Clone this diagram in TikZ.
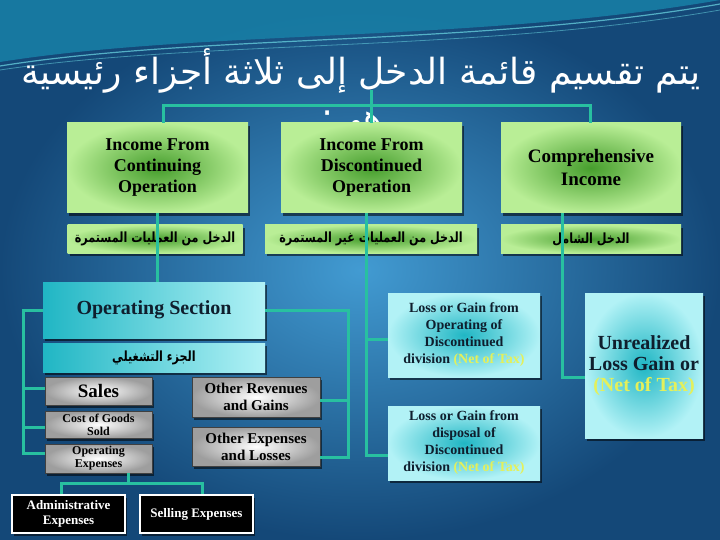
\documentclass[tikz,border=0pt]{standalone}
\usepackage{fontspec}
\setmainfont{Liberation Serif}
\newfontfamily\arabicfont[Script=Arabic]{DejaVu Sans}
\TeXXeTstate=1
\usetikzlibrary{shadows}
\definecolor{bgin}{RGB}{66,155,210}
\definecolor{bgout}{RGB}{20,72,120}
\definecolor{topteal}{RGB}{24,132,170}
\definecolor{wline}{RGB}{110,220,230}
\definecolor{conncol}{RGB}{40,192,160}
\definecolor{gin}{RGB}{70,158,45}
\definecolor{gout}{RGB}{185,238,150}
\definecolor{cdark}{RGB}{32,182,196}
\definecolor{clight}{RGB}{178,242,246}
\definecolor{ntax}{RGB}{228,240,90}
\definecolor{ctext}{RGB}{15,30,45}
\newcommand\myfs[2]{\fontsize{#1}{#2}\selectfont}
\newcommand\artext[1]{\scalebox{0.8}[1]{\arabicfont\bfseries\myfs{14}{16}\beginR #1\endR}}
\tikzset{
  conn/.style={draw=conncol, line width=3pt},
  shad/.style={drop shadow={shadow xshift=2pt, shadow yshift=-3pt, fill=black, opacity=0.55}},
  box/.style={rectangle, inner sep=1pt, align=center, shad},
  gbox/.style={box, inner color=gin, outer color=gout, text=black, font=\bfseries},
  cbox/.style={box, inner color=cdark, outer color=clight, text=ctext, font=\bfseries},
  gybox/.style={box, draw=black!75, line width=0.8pt, inner color=white, outer color=black!38, text=black, font=\bfseries},
  bkbox/.style={box, fill=black, draw=white, line width=2pt, text=white, font=\bfseries},
  ttl/.style={text=white, font=\arabicfont\myfs{36}{40}, inner sep=0pt}
}
\begin{document}
\begin{tikzpicture}[x=1pt,y=-1pt]
\useasboundingbox (0,0) rectangle (720,540);
% background
\shade[inner color=bgin, outer color=bgout] (0,0) rectangle (720,540);
\fill[topteal, opacity=0.8] (0,0) -- (0,62) .. controls (200,30) and (480,42) .. (720,0) -- cycle;
\draw[wline, line width=1.2pt, opacity=0.7] (0,66) .. controls (200,34) and (480,46) .. (720,4);
\draw[wline, line width=0.8pt, opacity=0.5] (0,70) .. controls (200,40) and (480,52) .. (720,10);

% title
\node[ttl] (t1) at (361,71) {\beginR يتم تقسيم قائمة الدخل إلى ثلاثة أجزاء رئيسية\endR};
\node[ttl] (t2) at (352,125) {\beginR هي:\endR};

% green level
\node[gbox, minimum width=181, minimum height=90, font=\bfseries\myfs{18}{21}] (g1) at (157.5,168) {Income From\\Continuing\\Operation};
\node[gbox, minimum width=181, minimum height=90, font=\bfseries\myfs{18}{21}] (g2) at (371.5,168) {Income From\\Discontinued\\Operation};
\node[gbox, minimum width=180, minimum height=90, font=\bfseries\myfs{19}{23}] (g3) at (591,168) {Comprehensive\\Income};

\node[gbox, minimum width=175, minimum height=28] (l1) at (155,239) {\artext{الدخل من العمليات المستمرة}};
\node[gbox, minimum width=212, minimum height=28] (l2) at (371,239) {\artext{الدخل من العمليات غير المستمرة}};
\node[gbox, minimum width=180, minimum height=28] (l3) at (591,239) {\artext{الدخل الشامل}};

% operating section
\node[box, left color=cdark, right color=clight, text=ctext, minimum width=222, minimum height=56, font=\bfseries\myfs{20}{22}] (os) at (154,310) {Operating Section};
\node[box, left color=cdark, right color=clight, text=black, minimum width=222, minimum height=29] (osl) at (154,357.5) {\artext{الجزء التشغيلي}};

\node[gybox, minimum width=107, minimum height=28, font=\bfseries\myfs{19}{21}] (sales) at (98.5,391) {Sales};
\node[gybox, minimum width=107, minimum height=27, font=\bfseries\myfs{12}{13}] (cogs) at (98.5,424.5) {Cost of Goods\\Sold};
\node[gybox, minimum width=107, minimum height=29, font=\bfseries\myfs{12}{13}] (opex) at (98.5,458.5) {Operating\\Expenses};

\node[gybox, minimum width=128, minimum height=40, font=\bfseries\myfs{15}{17}] (orev) at (256,397) {Other Revenues\\and Gains};
\node[gybox, minimum width=128, minimum height=39, font=\bfseries\myfs{15}{17}] (oexp) at (256,446.5) {Other Expenses\\and Losses};

\node[cbox, minimum width=152, minimum height=84, font=\bfseries\myfs{14}{17}] (lg1) at (464,335) {Loss or Gain from\\Operating of\\Discontinued\\division {\color{ntax}(Net of Tax)}};
\node[cbox, minimum width=152, minimum height=74, font=\bfseries\myfs{14}{17}] (lg2) at (464,443) {Loss or Gain from\\disposal of\\Discontinued\\division {\color{ntax}(Net of Tax)}};
\node[cbox, minimum width=118, minimum height=145, font=\bfseries\myfs{20}{21}] (ur) at (644,365.5) {Unrealized\\Loss Gain or\\{\color{ntax}(Net of Tax)}};

\node[bkbox, minimum width=113, minimum height=38, font=\bfseries\myfs{13}{15}] (adm) at (68.5,514) {Administrative\\Expenses};
\node[bkbox, minimum width=113, minimum height=38, font=\bfseries\myfs{13}{15}] (sell) at (196.5,514) {Selling Expenses};

% connectors
\coordinate (tb) at (371,90);
\coordinate (h1) at (163,106);
\coordinate (h3) at (590,106);
\draw[conn] (tb) -- (tb |- g2.north);
\draw[conn] (h1 |- g1.north) -- (h1) -- (h3) -- (h3 |- g3.north);

\draw[conn] (g1.south) -- (g1.south |- os.north);

\coordinate (d2a) at (366,339);
\coordinate (d2b) at (366,455);
\draw[conn] (g2.south -| d2b) -- (d2b) -- (d2b -| lg2.west);
\draw[conn] (d2a) -- (d2a -| lg1.west);

\coordinate (d3) at (562,377);
\draw[conn] (g3.south -| d3) -- (d3) -- (d3 -| ur.west);

\coordinate (lt) at (23,310);
\coordinate (lb) at (23,453);
\draw[conn] (os.west) -- (lt) -- (lb) -- (lb -| opex.west);
\draw[conn] (23,388) -- (sales.west |- 0,388);
\draw[conn] (23,427) -- (cogs.west |- 0,427);

\coordinate (rt) at (348,310);
\coordinate (rb) at (348,457);
\draw[conn] (os.east) -- (rt) -- (rb) -- (rb -| oexp.east);
\draw[conn] (348,400) -- (orev.east |- 0,400);

\coordinate (ob) at (128,483);
\coordinate (oa) at (61,483);
\coordinate (osl2) at (202,483);
\draw[conn] (ob |- opex.south) -- (ob);
\draw[conn] (oa |- adm.north) -- (oa) -- (osl2) -- (osl2 |- sell.north);
\end{tikzpicture}
\end{document}
